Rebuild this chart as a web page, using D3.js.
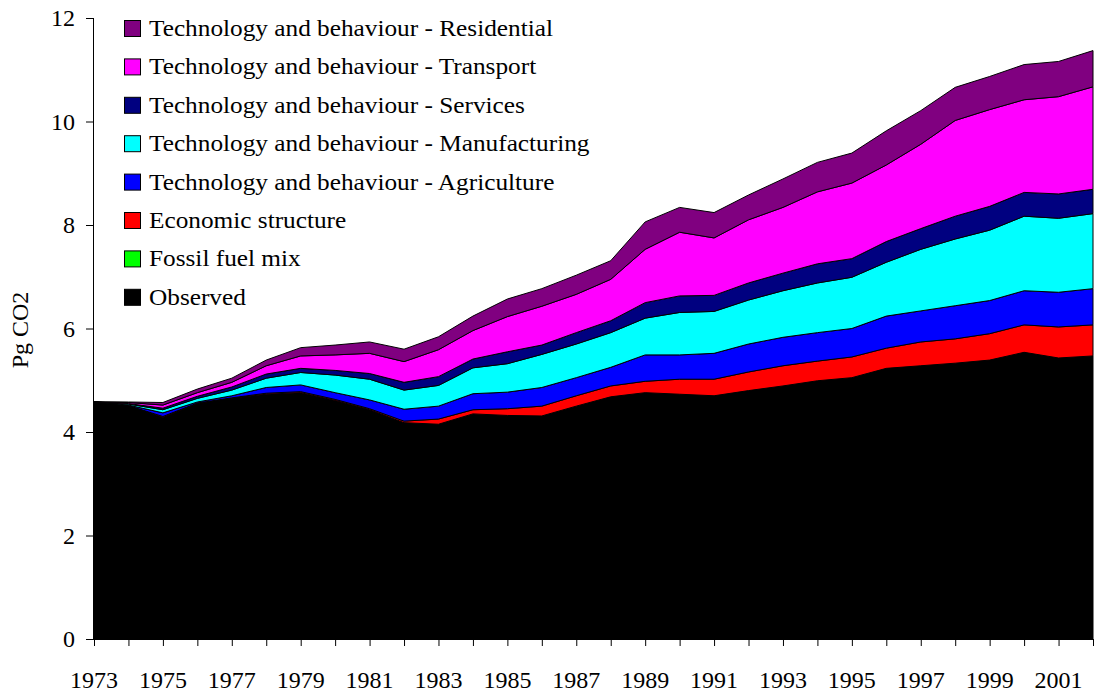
<!DOCTYPE html>
<html>
<head>
<meta charset="utf-8">
<script src="https://cdn.jsdelivr.net/npm/d3@7"></script>
<style>
  body { margin: 0; background: #fff; }
  svg text { font-family: "Liberation Serif", "Times New Roman", serif; fill: #000; }
</style>
</head>
<body>
<svg id="canvas"></svg>
<script>
/** Chart values (Pg CO2) */
let years = d3.range(1973, 2003);

let observed = [4.58, 4.51, 4.28, 4.55, 4.65, 4.73, 4.76, 4.61, 4.43, 4.18, 4.15, 4.35, 4.32, 4.31, 4.50,
    4.68, 4.76, 4.73, 4.70, 4.80, 4.89, 4.99, 5.05, 5.23, 5.28, 5.33, 5.39, 5.54, 5.43, 5.47];
let fossilFuelMix = [0, 0, 0, 0, 0, 0, 0, 0, 0, 0, 0, 0, 0, 0, 0,
    0, 0, 0, 0, 0, 0, 0, 0, 0, 0, 0, 0, 0, 0, 0];
let economicStructure = [0, 0.00, 0.02, 0.01, 0.01, 0.02, 0.02, 0.02, 0.02, 0.03, 0.10, 0.08, 0.13, 0.19, 0.20,
    0.21, 0.22, 0.29, 0.32, 0.36, 0.39, 0.38, 0.40, 0.39, 0.46, 0.47, 0.51, 0.53, 0.60, 0.60];
let agriculture = [0, 0.01, 0.07, 0.02, 0.04, 0.11, 0.13, 0.13, 0.17, 0.23, 0.25, 0.31, 0.32, 0.36, 0.35,
    0.36, 0.51, 0.47, 0.50, 0.54, 0.55, 0.55, 0.55, 0.62, 0.60, 0.64, 0.64, 0.66, 0.67, 0.70];
let manufacturing = [0, 0.02, 0.06, 0.07, 0.11, 0.18, 0.24, 0.34, 0.40, 0.37, 0.40, 0.50, 0.55, 0.64, 0.65,
    0.67, 0.71, 0.82, 0.81, 0.85, 0.90, 0.96, 0.99, 1.04, 1.19, 1.29, 1.36, 1.44, 1.43, 1.45];
let services = [0, 0.01, 0.03, 0.04, 0.06, 0.08, 0.08, 0.09, 0.11, 0.15, 0.17, 0.17, 0.23, 0.18, 0.22,
    0.23, 0.30, 0.32, 0.31, 0.33, 0.34, 0.37, 0.36, 0.40, 0.40, 0.44, 0.46, 0.46, 0.47, 0.47];
let transport = [0, 0.02, 0.06, 0.07, 0.09, 0.16, 0.24, 0.30, 0.39, 0.40, 0.52, 0.55, 0.68, 0.75, 0.74,
    0.80, 1.03, 1.23, 1.11, 1.22, 1.27, 1.39, 1.46, 1.48, 1.63, 1.85, 1.87, 1.79, 1.88, 1.98];
let residential = [0, 0.01, 0.05, 0.07, 0.08, 0.11, 0.16, 0.19, 0.22, 0.24, 0.25, 0.28, 0.34, 0.34, 0.37,
    0.36, 0.53, 0.48, 0.49, 0.48, 0.55, 0.57, 0.58, 0.66, 0.65, 0.64, 0.64, 0.68, 0.68, 0.70];

// stacking order, bottom to top
let seriesNames = ['Observed', 'Fossil fuel mix', 'Economic structure',
    'Technology and behaviour - Agriculture', 'Technology and behaviour - Manufacturing',
    'Technology and behaviour - Services', 'Technology and behaviour - Transport',
    'Technology and behaviour - Residential'];
let seriesValues = [observed, fossilFuelMix, economicStructure, agriculture, manufacturing,
    services, transport, residential];
let seriesColors = ['#000000', '#00ff00', '#ff0000', '#0000ff', '#00ffff', '#000080', '#ff00ff', '#800080'];

let yTicks = [0, 2, 4, 6, 8, 10, 12];
let xLabelYears = years.filter((y) => (y - 1973) % 2 === 0);

let width = 1096;
let height = 698;
let plotLeft = 94;
let plotRight = 1093;
let plotTop = 18;
let plotBottom = 639;
let serif = '"Liberation Serif", "Times New Roman", serif';

let canvas = d3.select('#canvas').attr('width', width).attr('height', height);

/** Build table for d3.stack */
let table = years.map((year, i) => {
    let row = { year: year };
    seriesNames.forEach((name, k) => { row[name] = seriesValues[k][i]; });
    return row;
});

let xScale = d3.scaleLinear().domain([1973, 2002]).range([plotLeft, plotRight]);
let yScale = d3.scaleLinear().domain([0, 12]).range([plotBottom, plotTop]);

const drawAreas = () => {
    let stacked = d3.stack().keys(seriesNames)(table);

    let area = d3.area()
        .x((d) => xScale(d.data.year))
        .y0((d) => yScale(d[0]))
        .y1((d) => yScale(d[1]));

    canvas.append('g')
        .selectAll('path')
        .data(stacked)
        .enter()
        .append('path')
        .attr('d', area)
        .attr('fill', (d, i) => seriesColors[i])
        .attr('stroke', '#000')
        .attr('stroke-width', 1)
        .attr('stroke-linejoin', 'round');
};

const drawAxes = () => {
    let yAxis = d3.axisLeft(yScale)
        .tickValues(yTicks)
        .tickSize(8)
        .tickPadding(11)
        .tickFormat(d3.format('d'));

    let xAxis = d3.axisBottom(xScale)
        .tickValues(years)
        .tickSize(7)
        .tickFormat('');

    let gy = canvas.append('g')
        .attr('transform', `translate(${plotLeft}, 0)`)
        .call(yAxis)
        .attr('font-family', serif)
        .attr('font-size', 24);
    gy.select('.domain').attr('d', `M-0.5,${plotTop}V${plotBottom}`);

    let gx = canvas.append('g')
        .attr('transform', `translate(0, ${plotBottom})`)
        .call(xAxis);
    gx.select('.domain').attr('d', `M${plotLeft},0.5H${plotRight}`);

    canvas.append('g')
        .selectAll('text')
        .data(xLabelYears)
        .enter()
        .append('text')
        .attr('x', (d) => xScale(d))
        .attr('y', 688)
        .attr('text-anchor', 'middle')
        .attr('font-family', serif)
        .attr('font-size', 24)
        .text((d) => d);

    canvas.append('text')
        .attr('transform', 'translate(28, 330) rotate(-90)')
        .attr('text-anchor', 'middle')
        .attr('font-family', serif)
        .attr('font-size', 24)
        .text('Pg CO2');
};

const drawLegend = () => {
    let order = seriesNames.map((n, i) => i).reverse();
    let rows = canvas.append('g')
        .selectAll('g')
        .data(order)
        .enter()
        .append('g')
        .attr('transform', (k, j) => `translate(124, ${20.5 + j * 38.4})`);

    rows.append('rect')
        .attr('x', 0.5)
        .attr('width', 16)
        .attr('height', 16)
        .attr('fill', (k) => seriesColors[k])
        .attr('stroke', '#000')
        .attr('stroke-width', 1);

    rows.append('text')
        .attr('transform', 'translate(25, 15.5) scale(1.1, 1)')
        .attr('font-family', serif)
        .attr('font-size', 23)
        .text((k) => seriesNames[k]);
};

drawAreas();
drawAxes();
drawLegend();
</script>
</body>
</html>
